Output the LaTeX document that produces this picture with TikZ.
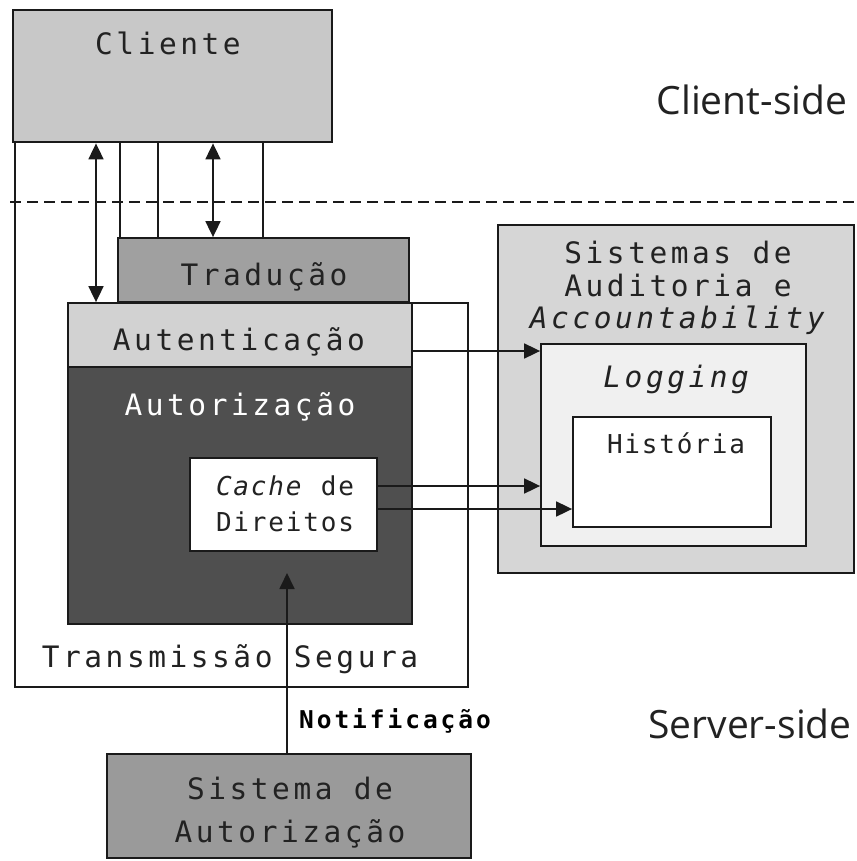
\documentclass[tikz,border=0pt]{standalone}
\usepackage{fontspec}
\setmainfont{DejaVu Sans}
\newfontfamily\boxfont[LetterSpace=12]{DejaVu Sans Mono}
\newfontfamily\smallboxfont[LetterSpace=7]{DejaVu Sans Mono}
\newfontfamily\notiffont[LetterSpace=12]{DejaVu Sans Mono Bold}
\newfontfamily\sidefont{Open Sans}
\usetikzlibrary{arrows.meta}

\definecolor{linec}{HTML}{1A1A1A}
\definecolor{txtc}{HTML}{222222}
\definecolor{clientfill}{HTML}{C8C8C8}
\definecolor{tradfill}{HTML}{A0A0A0}
\definecolor{autentfill}{HTML}{D2D2D2}
\definecolor{autorizfill}{HTML}{4F4F4F}
\definecolor{auditfill}{HTML}{D6D6D6}
\definecolor{logfill}{HTML}{F0F0F0}
\definecolor{sisautfill}{HTML}{9A9A9A}

\tikzset{
  box/.style={draw=linec, line width=1.8pt, inner sep=0pt, anchor=center},
  lbl/.style={anchor=base, inner sep=0pt, text=txtc,
    font=\boxfont\fontsize{29.5}{34}\selectfont},
  smalllbl/.style={anchor=base, inner sep=0pt, text=txtc,
    font=\smallboxfont\fontsize{26}{30}\selectfont},
  sidelbl/.style={anchor=base, inner sep=0pt, text=txtc,
    font=\sidefont\fontsize{39}{44}\selectfont},
  wire/.style={draw=linec, line width=1.8pt},
  arr/.style={wire, -{Triangle[length=16pt,width=15pt]}},
  dbl/.style={wire, {Triangle[length=16pt,width=15pt]}-{Triangle[length=16pt,width=15pt]}},
}

\begin{document}
\begin{tikzpicture}[x=1pt,y=-1pt]
\useasboundingbox[fill=white] (0,0) rectangle (856,861);

% secure transmission frame
\draw[wire] (15,143) -- (15,687) -- (468,687) -- (468,303) -- (412,303);

% client / server divider
\coordinate (divL) at (10,202);
\coordinate (divR) at (856,202);
\draw[linec, line width=1.6pt, dash pattern=on 11pt off 6pt] (divL) -- (divR);

% boxes
\node[box, fill=clientfill, line width=2.8pt, minimum width=319pt, minimum height=132pt] (cliente) at (172.5,76) {};
\node[box, fill=tradfill, minimum width=291pt, minimum height=64pt] (trad) at (263.5,270) {};
\node[box, fill=autentfill, minimum width=344pt, minimum height=64pt] (autent) at (240,335) {};
\node[box, fill=autorizfill, minimum width=344pt, minimum height=257pt] (autoriz) at (240,495.5) {};
\node[box, fill=white, minimum width=187pt, minimum height=93pt] (cache) at (283.5,504.5) {};
\node[box, fill=auditfill, minimum width=356pt, minimum height=348pt] (audit) at (676,399) {};
\node[box, fill=logfill, minimum width=265pt, minimum height=202pt] (logging) at (673.5,445) {};
\node[box, fill=white, minimum width=198pt, minimum height=110pt] (historia) at (672,472) {};
\node[box, fill=sisautfill, minimum width=364pt, minimum height=104pt] (sisaut) at (289,806) {};

% texts
\node[lbl] (tcliente) at (168,55) {Cliente};
\node[lbl] (ttrad) at (264,285) {Tradução};
\node[lbl] (tautent) at (239,350) {Autenticação};
\node[lbl, text=white] (tautoriz) at (240,415) {Autorização};
\node[smalllbl] (tcache1) at (285,495) {\textit{Cache} de};
\node[smalllbl] (tcache2) at (285,531) {Direitos};
\node[lbl] (ttrans) at (230,667) {Transmissão Segura};
\node[lbl] (taudit1) at (678,263) {Sistemas de};
\node[lbl] (taudit2) at (678,296) {Auditoria e};
\node[lbl] (taudit3) at (679,328) {\textit{Accountability}};
\node[lbl] (tlog) at (678,387) {\textit{Logging}};
\node[smalllbl] (thist) at (676,453) {História};
\node[lbl] (tsis1) at (290,799) {Sistema de};
\node[lbl] (tsis2) at (290,842) {Autorização};
\node[anchor=base west, inner sep=0pt, text=black,
  font=\notiffont\fontsize{24.5}{28}\selectfont] (tnotif) at (299,728) {Notificação};
\node[sidelbl] (tclientside) at (752,115) {Client-side};
\node[sidelbl] (tserverside) at (750,738) {Server-side};

% channels between client and translation layer
\coordinate (x96) at (96,0);
\coordinate (x120) at (120,0);
\coordinate (x158) at (158,0);
\coordinate (x213) at (213,0);
\coordinate (x263) at (263,0);
\draw[wire] (x120 |- cliente.south) -- (x120 |- trad.north);
\draw[wire] (x158 |- cliente.south) -- (x158 |- trad.north);
\draw[wire] (x263 |- cliente.south) -- (x263 |- trad.north);
\draw[dbl] (x96 |- cliente.south) -- (x96 |- autent.north);
\draw[dbl] (x213 |- cliente.south) -- (x213 |- trad.north);

% flows to auditing
\coordinate (y351) at (0,351);
\coordinate (y486) at (0,486);
\coordinate (y509) at (0,509);
\draw[arr] (autent.east |- y351) -- (logging.west |- y351);
\draw[arr] (cache.east |- y486) -- (logging.west |- y486);
\draw[arr] (cache.east |- y509) -- (historia.west |- y509);

% notification from the authorization system
\coordinate (notiftip) at (287,573);
\draw[arr] (sisaut.north -| notiftip) -- (notiftip);
\end{tikzpicture}
\end{document}
